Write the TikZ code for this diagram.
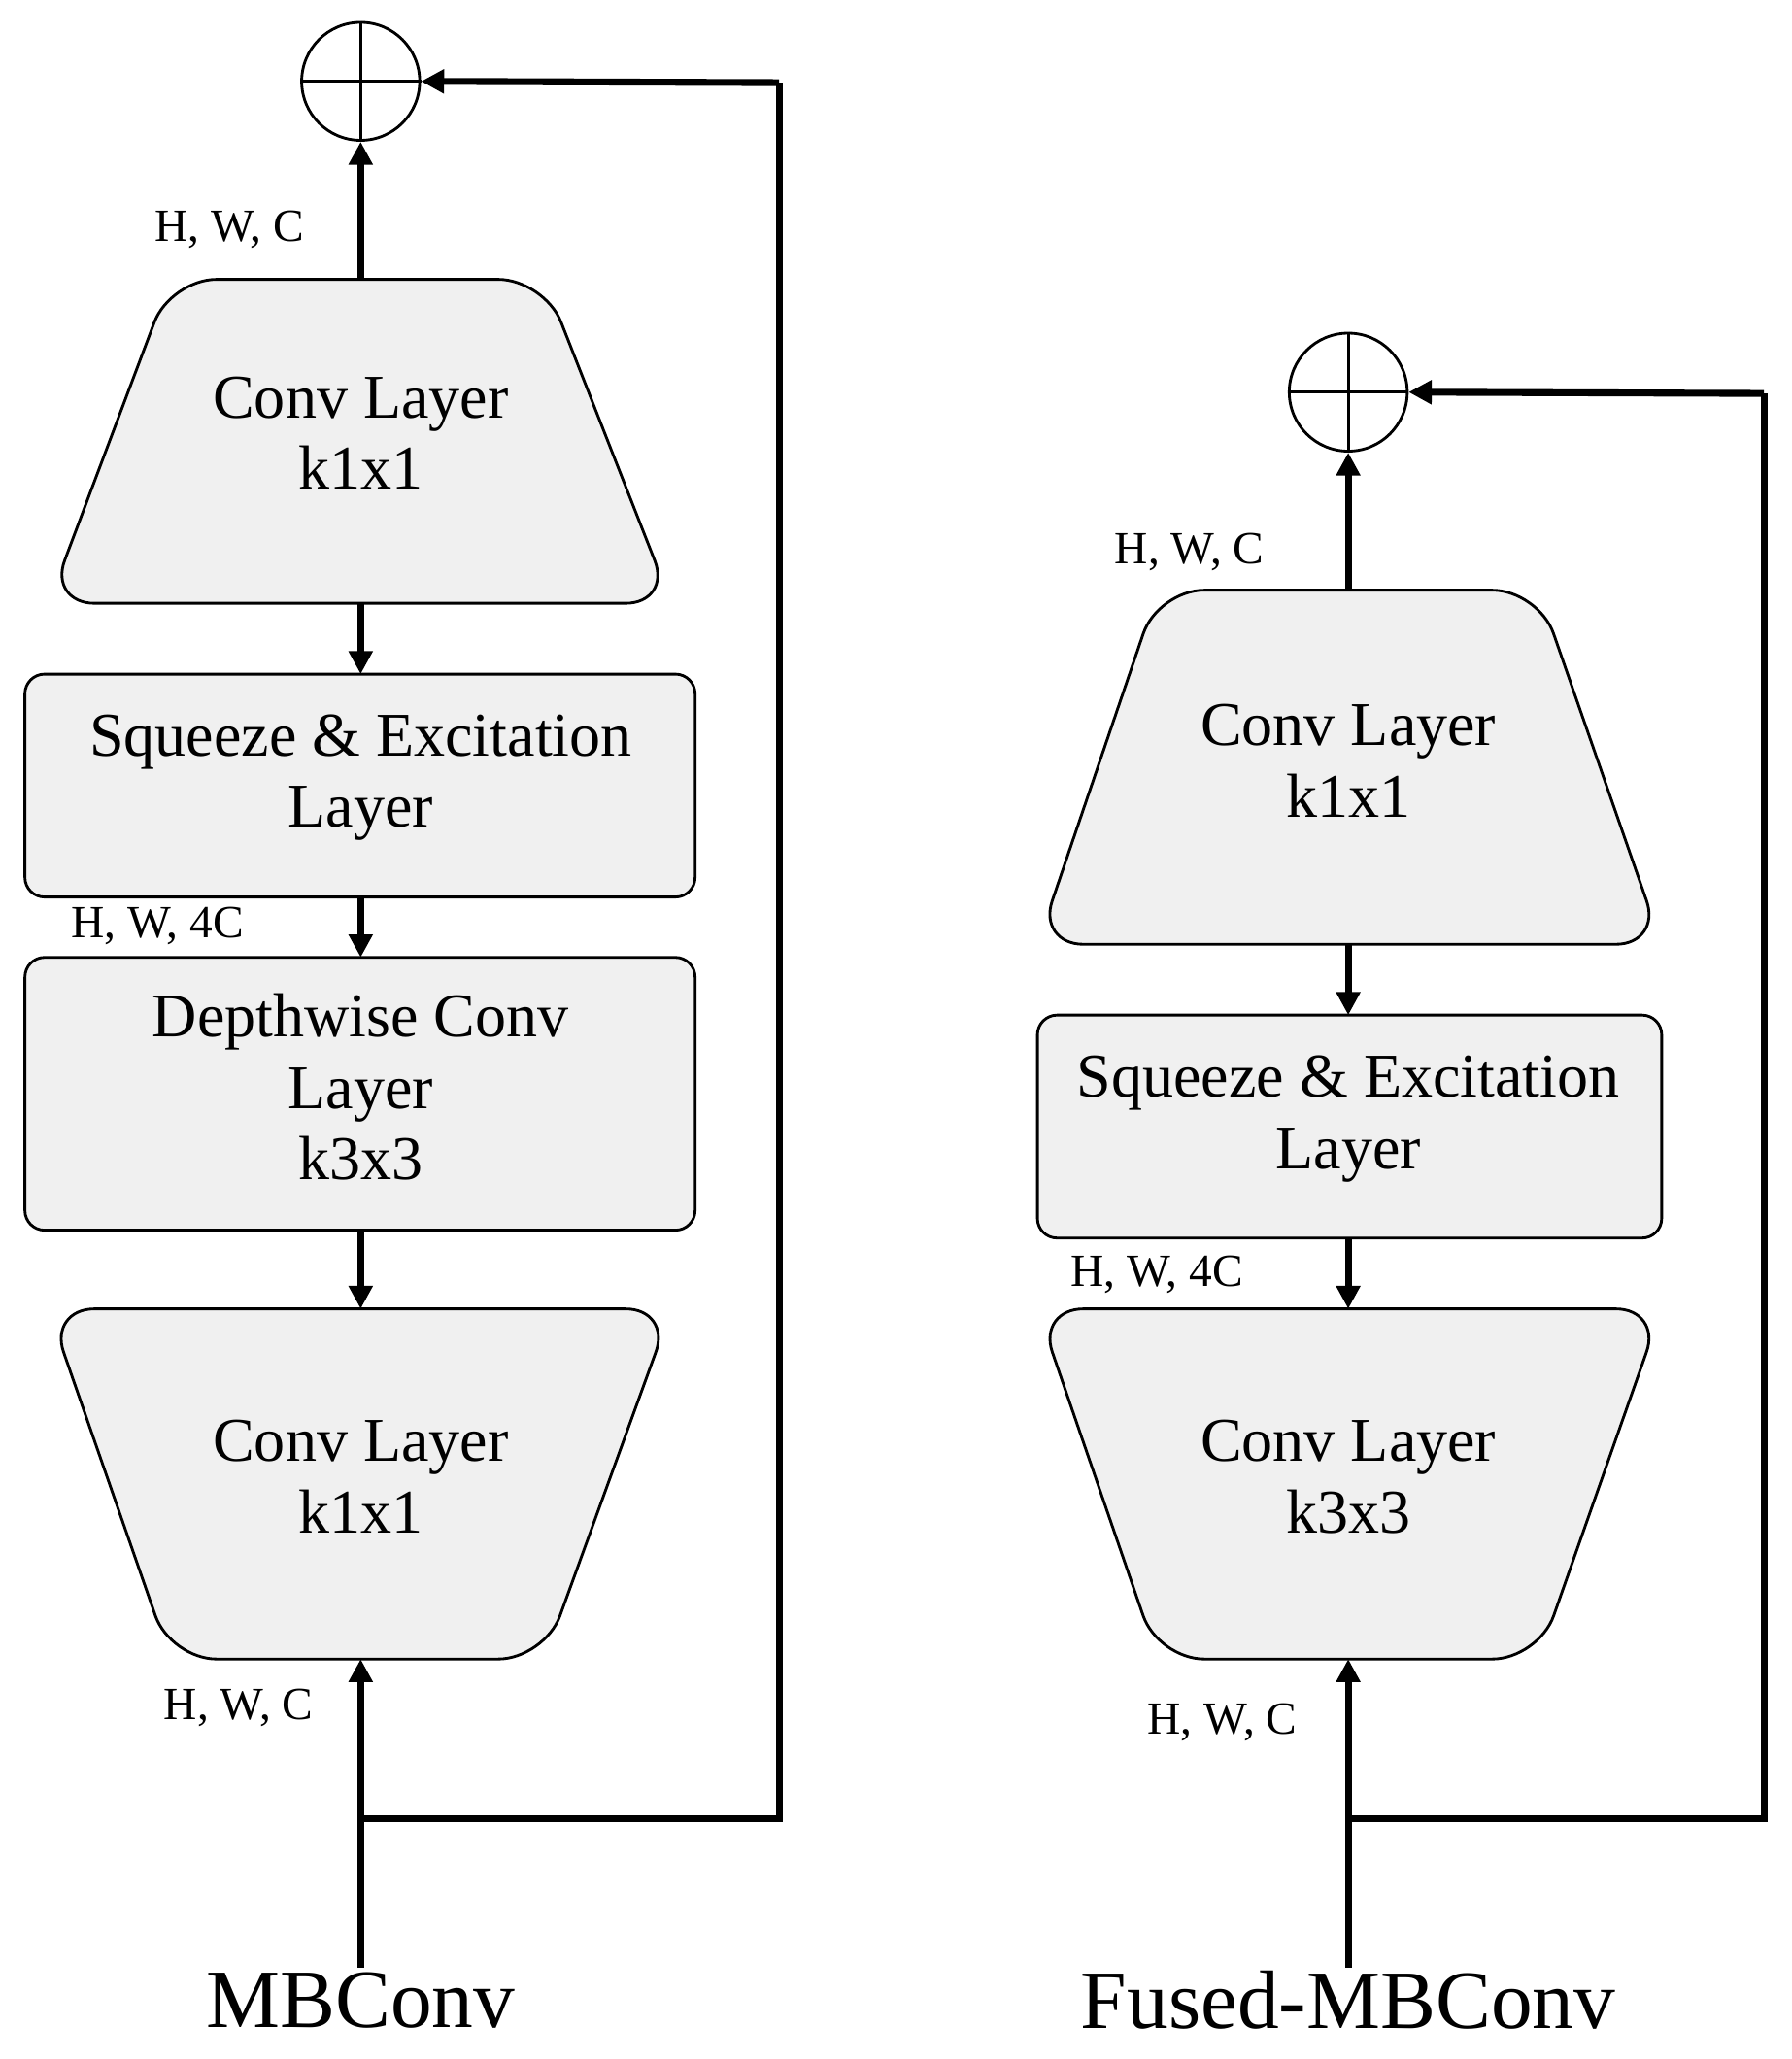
\documentclass[tikz,border=0pt]{standalone}
\usepackage{fontspec}
\setmainfont{Liberation Serif}
\usetikzlibrary{arrows.meta}
\begin{document}
\begin{tikzpicture}[x=0.02cm,y=-0.02cm,
  shp/.style={draw=black,line width=1.2pt,fill=black!6},
  arr/.style={line width=3pt,-{Triangle[length=10pt,width=10pt]}},
  wire/.style={line width=3pt},
  txt/.style={font=\fontsize{27}{31}\selectfont,align=center},
  lab/.style={font=\fontsize{20}{24}\selectfont},
  ttl/.style={font=\fontsize{36}{40}\selectfont},
  sum/.style={draw,circle,line width=1.2pt,minimum size=1.8cm,inner sep=0pt}]
\useasboundingbox (0,0) rectangle (1366,1570);
% ---------- MBConv ----------
\node[sum] (c1) at (275,62) {};
\draw[line width=1.2pt] (c1.north)--(c1.south) (c1.west)--(c1.east);
\draw[shp,rounded corners=0.7cm] (130,213)--(415,213)--(512,460)--(37,460)--cycle;
\node[txt] (t1) at (275,330) {Conv Layer\\k1x1};
\draw[shp,rounded corners=0.3cm] (19,514) rectangle (530,684);
\node[txt] (s1) at (275,593) {Squeeze \& Excitation\\Layer};
\draw[shp,rounded corners=0.3cm] (19,730) rectangle (530,938);
\node[txt] (d1) at (275,829) {Depthwise Conv\\Layer\\k3x3};
\draw[shp,rounded corners=0.7cm] (37,998)--(512,998)--(415,1265)--(130,1265)--cycle;
\node[txt] (b1) at (275,1126) {Conv Layer\\k1x1};
\coordinate (a1) at (275,213); \coordinate (a2) at (275,460); \coordinate (a3) at (275,514);
\coordinate (a4) at (275,684); \coordinate (a5) at (275,730); \coordinate (a6) at (275,938);
\coordinate (a7) at (275,998); \coordinate (a8) at (275,1265); \coordinate (a9) at (275,1500);
\coordinate (j1) at (275,1387); \coordinate (r1) at (594,1387); \coordinate (r2) at (594,63);
\draw[arr] (a1)--(c1.south);
\draw[arr] (a2)--(a3);
\draw[arr] (a4)--(a5);
\draw[arr] (a6)--(a7);
\draw[arr] (a9)--(a8);
\draw[wire] (j1)--(r1)--(r2);
\draw[arr] (r2)--(c1.east);
\node[lab] (l1) at (175,175) {H, W, C};
\node[lab] (l2) at (120,706) {H, W, 4C};
\node[lab] (l3) at (182,1302) {H, W, C};
\node[ttl] (m1) at (275,1525) {MBConv};
% ---------- Fused ----------
\node[sum] (c2) at (1028,299) {};
\draw[line width=1.2pt] (c2.north)--(c2.south) (c2.west)--(c2.east);
\draw[shp,rounded corners=0.7cm] (883,450)--(1173,450)--(1267,720)--(791,720)--cycle;
\node[txt] (t2) at (1028,580) {Conv Layer\\k1x1};
\draw[shp,rounded corners=0.3cm] (791,774) rectangle (1267,944);
\node[txt] (s2) at (1028,853) {Squeeze \& Excitation\\Layer};
\draw[shp,rounded corners=0.7cm] (791,998)--(1267,998)--(1173,1265)--(883,1265)--cycle;
\node[txt] (b2) at (1028,1126) {Conv Layer\\k3x3};
\coordinate (e1) at (1028,450); \coordinate (e2) at (1028,720); \coordinate (e3) at (1028,774);
\coordinate (e4) at (1028,944); \coordinate (e5) at (1028,998); \coordinate (e6) at (1028,1265);
\coordinate (e7) at (1028,1500);
\coordinate (j2) at (1028,1387); \coordinate (q1) at (1345,1387); \coordinate (q2) at (1345,300);
\draw[arr] (e1)--(c2.south);
\draw[arr] (e2)--(e3);
\draw[arr] (e4)--(e5);
\draw[arr] (e7)--(e6);
\draw[wire] (j2)--(q1)--(q2);
\draw[arr] (q2)--(c2.east);
\node[lab] (l4) at (907,421) {H, W, C};
\node[lab] (l5) at (882,972) {H, W, 4C};
\node[lab] (l6) at (932,1313) {H, W, C};
\node[ttl] (m2) at (1028,1525) {Fused-MBConv};
\end{tikzpicture}
\end{document}
